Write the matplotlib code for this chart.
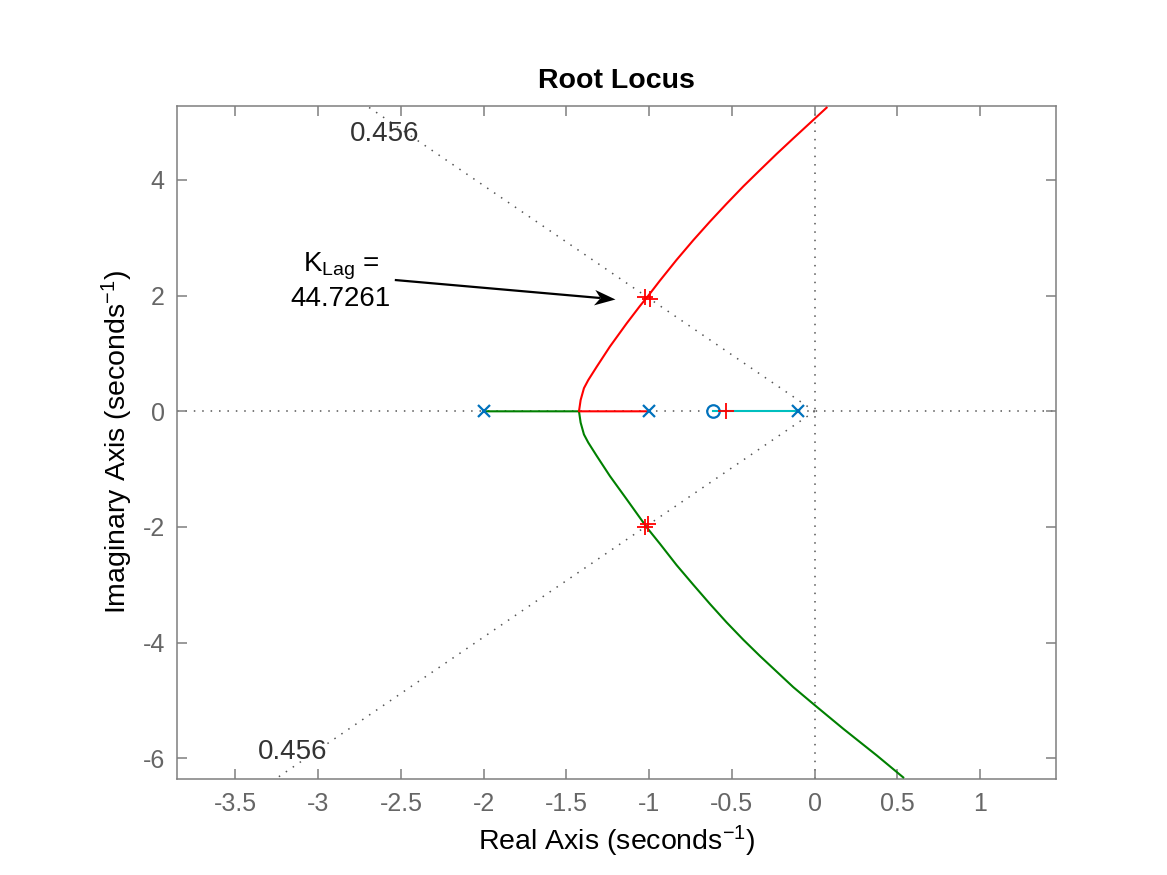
import numpy as np
import matplotlib
matplotlib.use("Agg")
import matplotlib.pyplot as plt
from matplotlib.path import Path

plt.rcParams.update(
    {
        "font.family": ["Liberation Sans", "DejaVu Sans"],
        "mathtext.fontset": "custom",
        "mathtext.rm": "Liberation Sans",
        "mathtext.it": "Liberation Sans:italic",
        "axes.unicode_minus": False,
    }
)

# %% data
# open-loop poles / zero (real axis)
ol_poles = [-2.0, -1.0, -0.1]
ol_zeros = [-0.613]

# root locus branches (real, imag)
red_re = [-1.0, -1.424, -1.414, -1.394, -1.368, -1.317, -1.237, -1.136, -1.056, -1.005,
          -0.935, -0.834, -0.733, -0.633, -0.532, -0.431, -0.331, -0.230, -0.129, 0.0, 0.072]
red_im = [0.0, 0.0, 0.195, 0.40, 0.54, 0.77, 1.12, 1.52, 1.82, 2.00,
          2.26, 2.62, 2.96, 3.28, 3.59, 3.89, 4.17, 4.45, 4.72, 5.06, 5.25]

green_re = [-2.0, -1.424, -1.414, -1.394, -1.368, -1.317, -1.237, -1.136, -1.056, -1.011,
            -0.935, -0.834, -0.733, -0.633, -0.532, -0.431, -0.331, -0.230, -0.129, 0.0,
            0.173, 0.375, 0.535]
green_im = [0.0, 0.0, -0.195, -0.40, -0.54, -0.77, -1.12, -1.52, -1.84, -2.02,
            -2.29, -2.66, -3.00, -3.33, -3.65, -3.95, -4.23, -4.50, -4.77, -5.08,
            -5.49, -5.95, -6.33]

cyan_re = [-0.1, -0.613]
cyan_im = [0.0, 0.0]

# closed-loop poles for K = 44.7261
cl_re = [-1.026, -0.996, -1.026, -1.006, -0.538]
cl_im = [1.98, 1.94, -2.00, -1.955, 0.0]

zeta = 0.456
k_lag = 44.7261
arrow_tip = (-1.207, 1.937)
arrow_tail = (-2.53, 2.269)

xticks = [-3.5, -3, -2.5, -2, -1.5, -1, -0.5, 0, 0.5, 1]
xticklabels = ["-3.5", "-3", "-2.5", "-2", "-1.5", "-1", "-0.5", "0", "0.5", "1"]
yticks = [-6, -4, -2, 0, 2, 4]
yticklabels = ["-6", "-4", "-2", "0", "2", "4"]

xlim = (-3.851, 1.456)
ylim = (-6.358, 5.28)

# %% style
ax_grey = "#7f7f7f"
txt_grey = "#666666"
grid_grey = "#555555"
mblue = "#0072BD"
dot = (0, (1, 4.5))

fig = plt.figure(figsize=(11.67, 8.75), dpi=100)
ax = fig.add_axes([0.1519, 0.1097, 0.7527, 0.7692])
ax.set_xlim(*xlim)
ax.set_ylim(*ylim)

# axis lines + damping lines
ax.axhline(0, color=grid_grey, lw=1.1, ls=dot, zorder=1)
ax.axvline(0, color=grid_grey, lw=1.1, ls=dot, zorder=1)
slope = np.tan(np.arccos(zeta))
for sgn in (1, -1):
    ax.plot([0, xlim[0]], [0, -sgn * slope * xlim[0]], color=grid_grey, lw=1.1, ls=dot, zorder=1)

ax.text(-2.60, 4.80, f"{zeta:.3f}", fontsize=20, color="#333333", ha="center", va="center")
ax.text(-3.155, -5.89, f"{zeta:.3f}", fontsize=20, color="#333333", ha="center", va="center")

# branches
lwb = 1.5
ax.plot(green_re, green_im, color="#008000", lw=lwb, zorder=3)
ax.plot(red_re, red_im, color="#FF0000", lw=lwb, zorder=3)
ax.plot(cyan_re, cyan_im, color="#00BFBF", lw=lwb, zorder=3)

ax.plot(ol_poles, np.zeros(len(ol_poles)), ls="none", marker="x", ms=8, mew=1.6, color=mblue, zorder=5)
ax.plot(ol_zeros, np.zeros(len(ol_zeros)), ls="none", marker="o", ms=9, mew=1.6, mfc="none", color=mblue, zorder=5)
ax.plot(cl_re, cl_im, ls="none", marker="+", ms=12, mew=1.3, color="#FF0000", zorder=6)

# annotation: line + concave ("vback") arrow head, marker origin = tip
head_ms = 31  # marker size in pt, head length = head_ms / 2
p_tip = ax.transData.transform(arrow_tip)
p_tail = ax.transData.transform(arrow_tail)
vec = p_tip - p_tail
ang = np.arctan2(vec[1], vec[0])
unit = vec / np.hypot(*vec)
head = np.array([[0, 0], [-1.0, 0.37], [-0.72, 0], [-1.0, -0.37], [0, 0]])
rot = np.array([[np.cos(ang), -np.sin(ang)], [np.sin(ang), np.cos(ang)]])
head_path = Path(head @ rot.T, [Path.MOVETO, Path.LINETO, Path.LINETO, Path.LINETO, Path.CLOSEPOLY])
head_len_px = head_ms / 2 * fig.dpi / 72 * max(abs(np.cos(ang)), abs(np.sin(ang)))
notch = ax.transData.inverted().transform(p_tip - 0.75 * head_len_px * unit)
ax.plot([arrow_tail[0], notch[0]], [arrow_tail[1], notch[1]], color="black", lw=1.6, zorder=7)
ax.plot([arrow_tip[0]], [arrow_tip[1]], marker=head_path, ms=head_ms, color="black", mew=0, ls="none", zorder=8)

ax.text(-2.862, 2.254, "K$_{\\mathrm{Lag}}$ =\n" + f"{k_lag}", fontsize=20, ha="center", va="center", linespacing=1.2)

ax.set_xticks(xticks)
ax.set_xticklabels(xticklabels)
ax.set_yticks(yticks)
ax.set_yticklabels(yticklabels)

ax.tick_params(direction="in", length=7, width=1.1, color=ax_grey, labelcolor=txt_grey, labelsize=18,
               top=True, right=True, pad=9)
for spine in ax.spines.values():
    spine.set_edgecolor(ax_grey)
    spine.set_linewidth(1.1)

ax.set_xlabel("Real Axis (seconds$^{-1}$)", fontsize=20.5, labelpad=6)
ax.set_ylabel("Imaginary Axis (seconds$^{-1}$)", fontsize=20.5, labelpad=5)
ax.set_title("Root Locus", fontsize=20.5, fontweight="bold", pad=13)

fig.savefig("out.png", dpi=100)
